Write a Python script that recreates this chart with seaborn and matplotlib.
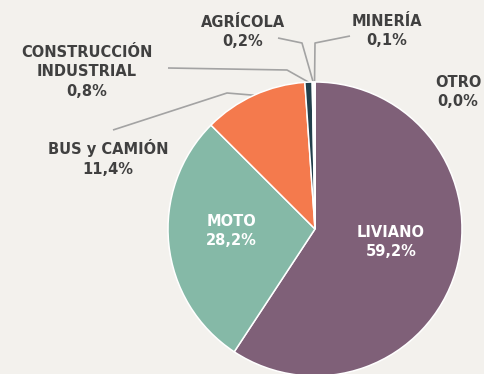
import numpy as np
import matplotlib
matplotlib.use("Agg")
import matplotlib.pyplot as plt
import seaborn as sns

# Vehicle fleet share by segment (%), clockwise from 12 o'clock
categories = ["LIVIANO", "MOTO", "BUS y CAMIÓN", "CONSTRUCCIÓN\nINDUSTRIAL",
              "AGRÍCOLA", "MINERÍA", "OTRO"]
shares = [59.2, 28.2, 11.4, 0.8, 0.2, 0.1, 0.0]
value_labels = ["59,2%", "28,2%", "11,4%", "0,8%", "0,2%", "0,1%", "0,0%"]

colors = ["#7f6078", "#85b9a7", "#f47a4d", "#223f4b", "#ece8e4", "#b9559f", "#9a9a9a"]

sns.set_theme(style="white")
plt.rcParams["font.family"] = ["DejaVu Sans"]

BG = "#f3f1ed"
W, H = 484, 374
CX, CY, R = 315, 229, 147  # pie centre / radius in pixels

fig = plt.figure(figsize=(W / 100, H / 100), dpi=100, facecolor=BG)
ax = fig.add_axes([0, 0, 1, 1])
ax.set_facecolor(BG)

wedges, _ = ax.pie(shares, colors=colors, startangle=90, counterclock=False,
                   radius=1, center=(0, 0),
                   wedgeprops=dict(edgecolor="white", linewidth=1.1))

ax.set_xlim(-CX / R, (W - CX) / R)
ax.set_ylim(-(H - CY) / R, CY / R)
ax.set_aspect("equal")
ax.axis("off")


def px(x, y):
    """Pixel position (from top-left) to data coordinates."""
    return (x - CX) / R, (CY - y) / R


TXT = "#404040"
FS = 10.5
LS = 1.4


def mid_point(w, r=1.0):
    ang = np.deg2rad((w.theta1 + w.theta2) / 2)
    return r * np.cos(ang), r * np.sin(ang)


# labels inside the two large wedges
for i, (x, y) in [(0, (391, 242)), (1, (231, 231))]:
    dx, dy = px(x, y)
    ax.text(dx, dy, f"{categories[i]}\n{value_labels[i]}", color="white",
            ha="center", va="center", fontsize=FS, fontweight="bold",
            linespacing=LS)

# outside labels with leader lines: (index, label centre, elbow, line end)
outside = [
    (2, (108, 158), (227, 93), (113, 130)),
    (3, (87, 72), (287, 70), (168, 68)),
    (4, (243, 32), (302, 43), (278, 38)),
    (5, (387, 31), (315, 43), (350, 36)),
]
for i, (lx, ly), elbow, end in outside:
    dx, dy = px(lx, ly)
    ax.text(dx, dy, f"{categories[i]}\n{value_labels[i]}", color=TXT,
            ha="center", va="center", fontsize=FS, fontweight="bold",
            linespacing=LS)
    sx, sy = mid_point(wedges[i], 1.0)
    ex, ey = px(*elbow)
    tx, ty = px(*end)
    ax.plot([sx, ex, tx], [sy, ey, ty], color="#a3a3a3", lw=1.2,
            solid_capstyle="butt", zorder=0)

dx, dy = px(458, 92)
ax.text(dx, dy, f"{categories[6]}\n{value_labels[6]}", color=TXT,
        ha="center", va="center", fontsize=FS, fontweight="bold",
        linespacing=LS)

fig.savefig("out.png", dpi=100, facecolor=BG)
